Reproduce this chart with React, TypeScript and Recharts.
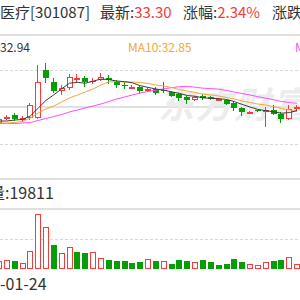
import React from 'react';
import { ComposedChart, Bar, Line, XAxis, YAxis } from 'recharts';

// ---- data ----
const days = Array.from({ length: 39 }, (_, i) => i);
const opens = [31.7, 32.25, 32.5, 32.0, 32.2, 32.2, 37.0, 35.8, 34.9, 35.2, 36.15, 36.2, 35.85, 36.0, 36.2, 35.8, 35.55, 35.25, 35.3, 34.9, 35.1, 35.0, 34.8, 34.6, 34.3, 34.0, 34.4, 34.3, 34.05, 34.0, 33.7, 33.2, 32.75, 32.95, 32.9, 33.0, 32.6, 32.1, 33.2];
const closes = [32.1, 32.3, 32.1, 32.2, 33.5, 35.8, 36.2, 34.9, 35.2, 36.3, 36.2, 35.8, 35.9, 36.3, 36.0, 35.5, 35.5, 35.3, 34.9, 35.1, 34.7, 34.95, 34.4, 34.2, 34.0, 34.3, 34.2, 34.1, 34.1, 33.6, 33.2, 32.8, 32.8, 32.9, 33.0, 32.6, 32.1, 33.1, 33.3];
const highs = [32.2, 32.5, 32.7, 32.4, 33.7, 37.5, 37.7, 36.2, 35.5, 36.6, 36.6, 36.4, 36.2, 36.7, 36.5, 36.0, 35.8, 35.5, 35.4, 35.2, 35.3, 35.8, 34.9, 34.7, 34.4, 34.4, 34.6, 34.4, 34.2, 34.1, 33.9, 33.3, 32.9, 33.0, 33.3, 33.5, 32.8, 33.5, 33.5];
const lows = [31.6, 32.0, 31.9, 31.8, 32.0, 32.1, 35.7, 34.7, 34.5, 35.0, 35.8, 35.3, 35.6, 35.9, 35.6, 35.2, 35.1, 35.1, 34.6, 34.8, 34.5, 34.7, 34.3, 33.9, 33.6, 33.9, 34.0, 34.0, 34.0, 33.5, 32.9, 32.4, 32.7, 32.8, 31.3, 32.5, 31.7, 32.0, 32.9];
const ma5 = [31.9, 31.9, 32.0, 32.05, 32.4, 33.18, 33.96, 34.52, 35.12, 35.68, 35.76, 35.68, 35.88, 36.1, 36.04, 35.9, 35.84, 35.72, 35.44, 35.26, 35.1, 34.99, 34.81, 34.67, 34.45, 34.37, 34.22, 34.16, 34.14, 34.06, 33.84, 33.56, 33.3, 33.06, 32.94, 32.82, 32.68, 32.74, 32.94];
const ma10 = [31.7, 31.7, 31.75, 31.85, 32.2, 32.7, 33.1, 33.4, 33.8, 34.2, 34.5, 34.8, 35.1, 35.5, 35.8, 35.85, 35.8, 35.8, 35.75, 35.65, 35.5, 35.4, 35.25, 35.05, 34.9, 34.75, 34.6, 34.5, 34.4, 34.25, 34.1, 33.9, 33.75, 33.6, 33.5, 33.35, 33.15, 33.02, 32.85];
const ma20 = [31.65, 31.65, 31.65, 31.7, 31.75, 31.95, 32.15, 32.35, 32.55, 32.8, 33.0, 33.2, 33.4, 33.6, 33.85, 34.1, 34.3, 34.5, 34.7, 34.85, 34.98, 35.12, 35.23, 35.33, 35.36, 35.28, 35.18, 35.14, 35.09, 34.95, 34.8, 34.65, 34.5, 34.33, 34.18, 34.03, 33.86, 33.75, 33.67];
const volumes = [33150, 37280, 30740, 24100, 73300, 219800, 166700, 97300, 64100, 86900, 66700, 64000, 68100, 44200, 37300, 33300, 33200, 24050, 26700, 40100, 30800, 30900, 20100, 37200, 30700, 26800, 37100, 26900, 17300, 20050, 40000, 26750, 20200, 16100, 26800, 30850, 37250, 46700, 19811];
const volumeUp = [true, true, false, true, true, true, true, false, true, true, false, false, true, true, false, false, false, false, false, true, false, true, false, false, false, true, false, false, false, false, false, false, true, true, true, false, false, true, true];

const RED = '#f53b3b';
const GREEN = '#069d06';
const ORANGE = '#f6a63c';
const MAGENTA = '#ff4cff';
const DARK = '#3c3c3c';
const FONT = '"Noto Sans CJK SC", "Noto Sans", sans-serif';

const priceData = days.map((i) => ({
  i,
  open: opens[i],
  close: closes[i],
  high: highs[i],
  low: lows[i],
  ma5: ma5[i],
  ma10: ma10[i],
  ma20: ma20[i],
}));
const volData = days.map((i) => ({ i, vol: volumes[i], up: volumeUp[i] }));

const Candle = (props: any) => {
  const { x, y, width, height, payload } = props;
  const { open, close, high, low } = payload;
  const ratio = height / (high - low);
  const yOf = (v: number) => y + (high - v) * ratio;
  const up = close >= open;
  const color = up ? RED : GREEN;
  const left = Math.round(x);
  const wx = left + 2.5;
  const yHigh = Math.round(yOf(high));
  const yLow = Math.round(yOf(low));
  let yTop = Math.round(yOf(Math.max(open, close)));
  let yBot = Math.round(yOf(Math.min(open, close)));
  const w = Math.round(width);
  if (yBot - yTop < 1) {
    return (
      <g>
        <line x1={wx} x2={wx} y1={yHigh} y2={yLow} stroke={color} strokeWidth={1} />
        <line x1={left} x2={left + w} y1={yTop + 0.5} y2={yTop + 0.5} stroke={color} strokeWidth={1} />
      </g>
    );
  }
  if (up) {
    return (
      <g>
        <line x1={wx} x2={wx} y1={yHigh} y2={yTop} stroke={color} strokeWidth={1} />
        <line x1={wx} x2={wx} y1={yBot} y2={yLow} stroke={color} strokeWidth={1} />
        <rect x={left + 0.5} y={yTop + 0.5} width={w - 1} height={Math.max(yBot - yTop - 1, 1)} fill="#fff" stroke={color} strokeWidth={1} />
      </g>
    );
  }
  return (
    <g>
      <line x1={wx} x2={wx} y1={yHigh} y2={yLow} stroke={color} strokeWidth={1} />
      <rect x={left} y={yTop} width={w} height={yBot - yTop} fill={color} />
    </g>
  );
};

const VolBar = (props: any) => {
  const { x, y, width, height, payload } = props;
  const left = Math.round(x);
  const top = Math.round(y);
  const bot = Math.round(y + height);
  const w = Math.round(width);
  if (payload.up) {
    return <rect x={left + 0.5} y={top + 0.5} width={w - 1} height={bot - top - 1} fill="#fff" stroke={RED} strokeWidth={1} />;
  }
  return <rect x={left} y={top} width={w} height={bot - top} fill={GREEN} />;
};

const hLine = (top: number, dashed: boolean) => (
  <div
    style={{
      position: 'absolute',
      left: 0,
      top,
      width: 300,
      height: dashed ? 1 : 2,
      background: dashed
        ? 'repeating-linear-gradient(to right, #d8d8d8 0 3px, transparent 3px 5px)'
        : '#e0e0e0',
    }}
  />
);

const txt = (left: number, top: number, size: number, color: string, content: React.ReactNode) => (
  <div
    style={{
      position: 'absolute',
      left,
      top,
      fontSize: size,
      lineHeight: `${size}px`,
      color,
      fontFamily: FONT,
      whiteSpace: 'nowrap',
    }}
  >
    {content}
  </div>
);

export default function App() {
  return (
    <div style={{ position: 'absolute', left: 0, top: 0, width: 300, height: 300, overflow: 'hidden', background: '#fff' }}>
      {hLine(34, false)}
      {hLine(70, true)}
      {hLine(106, false)}
      {hLine(144, true)}
      {hLine(178, false)}
      {hLine(208, false)}
      {hLine(239, true)}

      <div
        style={{
          position: 'absolute',
          left: 158,
          top: 80,
          fontSize: 36,
          lineHeight: '44px',
          fontFamily: FONT,
          fontWeight: 700,
          fontStyle: 'italic',
          color: '#ececec',
          whiteSpace: 'nowrap',
          letterSpacing: 2,
        }}
      >
        东方财富
      </div>

      {txt(0, 4, 15, '#333', '医疗[301087]')}
      {txt(100, 4, 15, '#333', <>最新:<span style={{ color: RED }}>33.30</span></>)}
      {txt(183, 4, 15, '#333', <>涨幅:<span style={{ color: RED }}>2.34%</span></>)}
      {txt(272, 4, 15, '#333', '涨跌')}

      {txt(0, 41, 12, '#333', '32.94')}
      {txt(128, 41, 12, ORANGE, 'MA10:32.85')}
      {txt(295, 41, 12, MAGENTA, 'MA20')}

      {txt(-11, 184, 16, '#333', '量:19811')}
      {txt(0, 275, 16, '#333', '-01-24')}

      <div style={{ position: 'absolute', left: -5, top: 35 }}>
        <ComposedChart width={306} height={144} data={priceData} margin={{ top: 0, right: 0, bottom: 0, left: 0 }}>
          <XAxis dataKey="i" hide />
          <YAxis hide domain={[26.1, 40.5]} type="number" />
          <Line dataKey="ma20" stroke={MAGENTA} strokeWidth={1} dot={false} activeDot={false} isAnimationActive={false} />
          <Line dataKey="ma10" stroke={ORANGE} strokeWidth={1} dot={false} activeDot={false} isAnimationActive={false} />
          <Bar
            dataKey={(d: any) => [d.low, d.high]}
            barSize={6}
            shape={<Candle />}
            isAnimationActive={false}
          />
          <Line dataKey="ma5" stroke={DARK} strokeWidth={1} dot={false} activeDot={false} isAnimationActive={false} />
        </ComposedChart>
      </div>

      <div style={{ position: 'absolute', left: -5, top: 209 }}>
        <ComposedChart width={306} height={60} data={volData} margin={{ top: 0, right: 0, bottom: 0, left: 0 }}>
          <XAxis dataKey="i" hide />
          <YAxis hide domain={[0, 240000]} type="number" />
          <Bar dataKey="vol" barSize={6} shape={<VolBar />} isAnimationActive={false} />
        </ComposedChart>
      </div>
    </div>
  );
}
